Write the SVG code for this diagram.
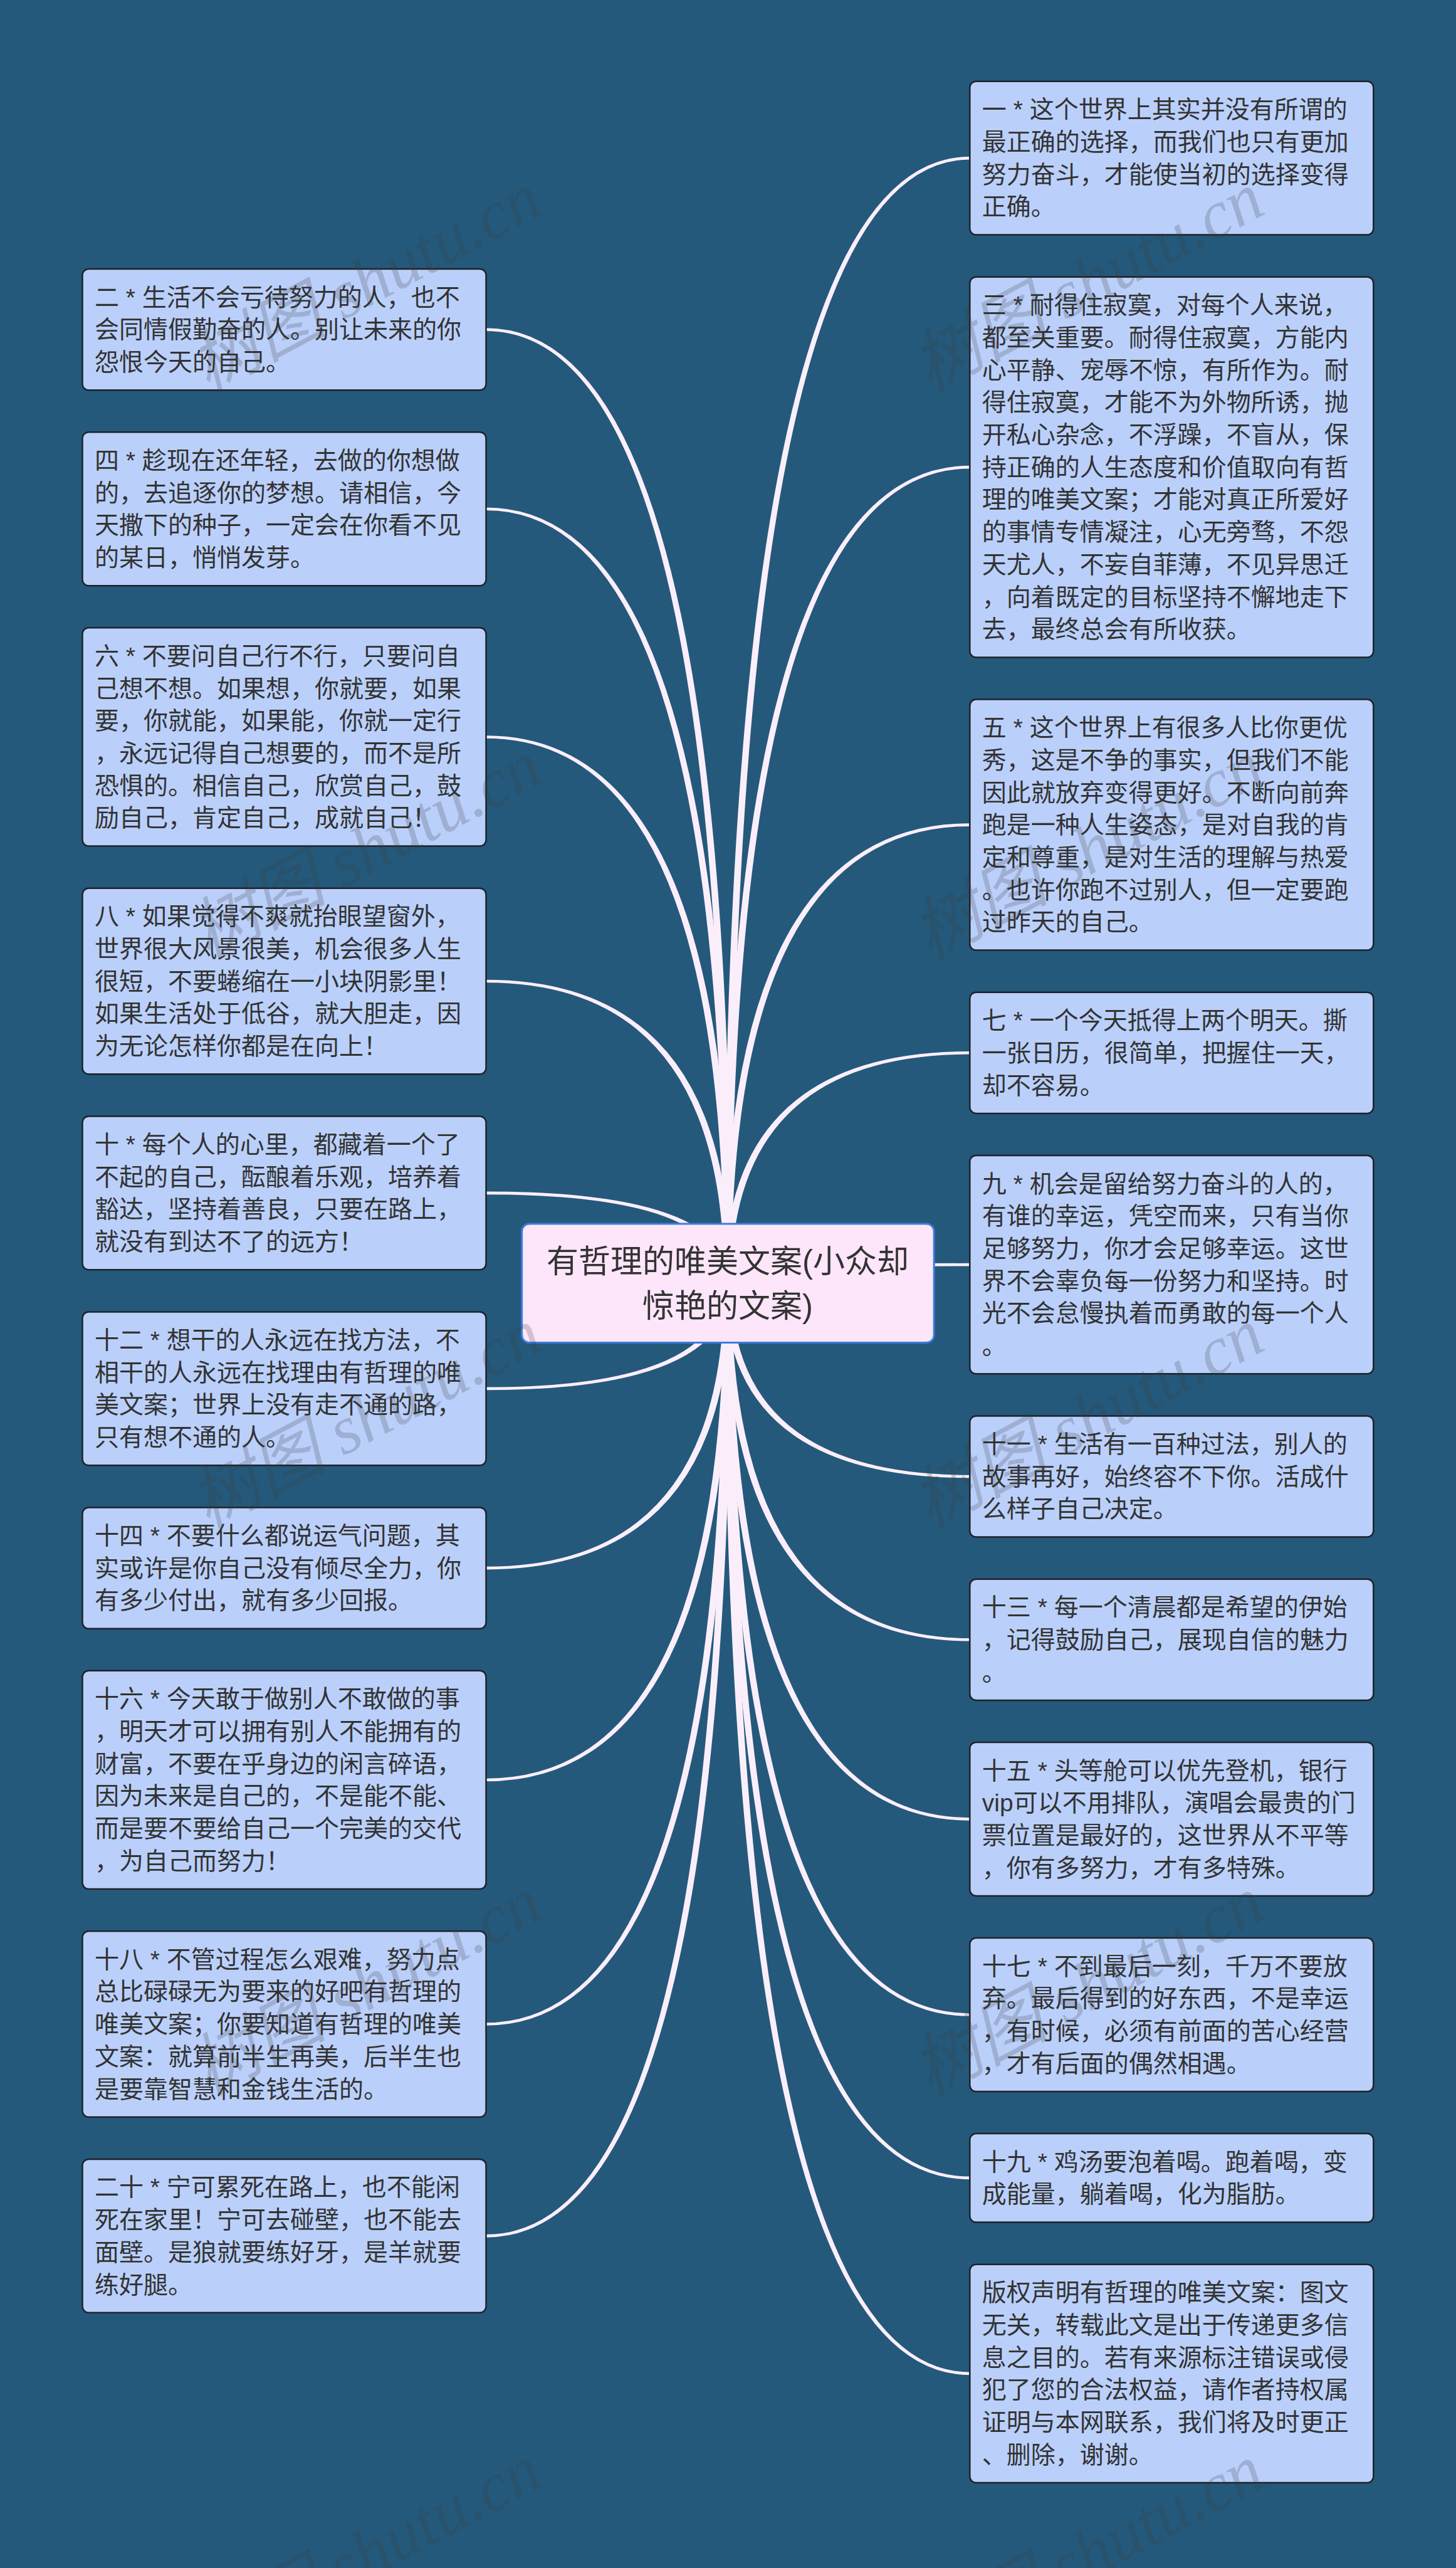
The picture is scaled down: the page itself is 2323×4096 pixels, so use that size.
<svg xmlns="http://www.w3.org/2000/svg" width="2323" height="4096" viewBox="0 0 2323 4096">
<defs>
<style>
.nb{fill:#bad0fb;stroke:#1e2328;stroke-width:2.5}
.cb{fill:#fde6fa;stroke:#3b7ddd;stroke-width:3}
.t{font-family:"Liberation Sans","Noto Sans CJK SC",sans-serif;font-size:39px;fill:#333333}
.ct{font-family:"Liberation Sans","Noto Sans CJK SC",sans-serif;font-size:51px;fill:#333333;text-anchor:middle}
.c{fill:#fbeefb}
.wm{font-family:"Liberation Serif","Noto Sans CJK SC",serif;font-style:italic;font-size:109px;fill:#3a3a3a;fill-opacity:0.22}
</style>
</defs>
<rect x="0" y="0" width="2323" height="4096" fill="#24597b"/>
<g id="connectors">
<path class="c" d="M1166.5,2046.2 Q1166.5,523.3 775.5,523.3 L775.5,527.9 Q1155.5,527.9 1155.5,2046.2Z"/>
<path class="c" d="M1166.5,2046.2 Q1166.5,809.45 775.5,809.45 L775.5,814.05 Q1155.5,814.05 1155.5,2046.2Z"/>
<path class="c" d="M1166.5,2046.2 Q1166.5,1173.15 775.5,1173.15 L775.5,1177.75 Q1155.5,1177.75 1155.5,2046.2Z"/>
<path class="c" d="M1166.5,2046.2 Q1166.5,1562.7 775.5,1562.7 L775.5,1567.3 Q1155.5,1567.3 1155.5,2046.2Z"/>
<path class="c" d="M1166.5,2046.2 Q1166.5,1900.55 775.5,1900.55 L775.5,1905.15 Q1155.5,1905.15 1155.5,2046.2Z"/>
<path class="c" d="M1166.5,2046.2 Q1166.5,2217.15 775.5,2217.15 L775.5,2212.55 Q1155.5,2212.55 1155.5,2046.2Z"/>
<path class="c" d="M1166.5,2046.2 Q1166.5,2503.4 775.5,2503.4 L775.5,2498.8 Q1155.5,2498.8 1155.5,2046.2Z"/>
<path class="c" d="M1166.5,2046.2 Q1166.5,2841.25 775.5,2841.25 L775.5,2836.65 Q1155.5,2836.65 1155.5,2046.2Z"/>
<path class="c" d="M1166.5,2046.2 Q1166.5,3230.8 775.5,3230.8 L775.5,3226.2 Q1155.5,3226.2 1155.5,2046.2Z"/>
<path class="c" d="M1166.5,2046.2 Q1166.5,3568.65 775.5,3568.65 L775.5,3564.05 Q1155.5,3564.05 1155.5,2046.2Z"/>
<path class="c" d="M1155.5,2046.2 Q1155.5,249.85 1547.3,249.85 L1547.3,254.45 Q1166.5,254.45 1166.5,2046.2Z"/>
<path class="c" d="M1155.5,2046.2 Q1155.5,742.8 1547.3,742.8 L1547.3,747.4 Q1166.5,747.4 1166.5,2046.2Z"/>
<path class="c" d="M1155.5,2046.2 Q1155.5,1313.3 1547.3,1313.3 L1547.3,1317.9 Q1166.5,1317.9 1166.5,2046.2Z"/>
<path class="c" d="M1155.5,2046.2 Q1155.5,1677.0 1547.3,1677.0 L1547.3,1681.6 Q1166.5,1681.6 1166.5,2046.2Z"/>
<path class="c" d="M1155.5,2046.2 Q1155.5,2014.85 1547.3,2014.85 L1547.3,2019.45 Q1166.5,2019.45 1166.5,2046.2Z"/>
<path class="c" d="M1155.5,2046.2 Q1155.5,2357.3 1547.3,2357.3 L1547.3,2352.7 Q1166.5,2352.7 1166.5,2046.2Z"/>
<path class="c" d="M1155.5,2046.2 Q1155.5,2617.6 1547.3,2617.6 L1547.3,2613.0 Q1166.5,2613.0 1166.5,2046.2Z"/>
<path class="c" d="M1155.5,2046.2 Q1155.5,2903.75 1547.3,2903.75 L1547.3,2899.15 Q1166.5,2899.15 1166.5,2046.2Z"/>
<path class="c" d="M1155.5,2046.2 Q1155.5,3215.85 1547.3,3215.85 L1547.3,3211.25 Q1166.5,3211.25 1166.5,2046.2Z"/>
<path class="c" d="M1155.5,2046.2 Q1155.5,3476.15 1547.3,3476.15 L1547.3,3471.55 Q1166.5,3471.55 1166.5,2046.2Z"/>
<path class="c" d="M1155.5,2046.2 Q1155.5,3788.15 1547.3,3788.15 L1547.3,3783.55 Q1166.5,3783.55 1166.5,2046.2Z"/>
</g>
<g id="root">
<rect class="cb" x="832.6" y="1951.9" width="657.6" height="189.6" rx="12"/>
<text class="ct" x="1161" y="2029.9">有哲理的唯美文案(小众却</text>
<text class="ct" x="1161" y="2100.6">惊艳的文案)</text>
</g>
<g id="n2">
<rect class="nb" x="131.5" y="429.0" width="644" height="193.2" rx="10"/>
<text class="t" x="151" y="487.5"><tspan x="151">二 * 生活不会亏待努力的人，也不</tspan><tspan x="151" dy="51.7">会同情假勤奋的人。别让未来的你</tspan><tspan x="151" dy="51.7">怨恨今天的自己。</tspan></text>
</g>
<g id="n4">
<rect class="nb" x="131.5" y="689.3" width="644" height="244.9" rx="10"/>
<text class="t" x="151" y="747.8"><tspan x="151">四 * 趁现在还年轻，去做的你想做</tspan><tspan x="151" dy="51.7">的，去追逐你的梦想。请相信，今</tspan><tspan x="151" dy="51.7">天撒下的种子，一定会在你看不见</tspan><tspan x="151" dy="51.7">的某日，悄悄发芽。</tspan></text>
</g>
<g id="n6">
<rect class="nb" x="131.5" y="1001.3" width="644" height="348.3" rx="10"/>
<text class="t" x="151" y="1059.8"><tspan x="151">六 * 不要问自己行不行，只要问自</tspan><tspan x="151" dy="51.7">己想不想。如果想，你就要，如果</tspan><tspan x="151" dy="51.7">要，你就能，如果能，你就一定行</tspan><tspan x="151" dy="51.7">，永远记得自己想要的，而不是所</tspan><tspan x="151" dy="51.7">恐惧的。相信自己，欣赏自己，鼓</tspan><tspan x="151" dy="51.7">励自己，肯定自己，成就自己！</tspan></text>
</g>
<g id="n8">
<rect class="nb" x="131.5" y="1416.7" width="644" height="296.6" rx="10"/>
<text class="t" x="151" y="1475.2"><tspan x="151">八 * 如果觉得不爽就抬眼望窗外，</tspan><tspan x="151" dy="51.7">世界很大风景很美，机会很多人生</tspan><tspan x="151" dy="51.7">很短，不要蜷缩在一小块阴影里！</tspan><tspan x="151" dy="51.7">如果生活处于低谷，就大胆走，因</tspan><tspan x="151" dy="51.7">为无论怎样你都是在向上！</tspan></text>
</g>
<g id="n10">
<rect class="nb" x="131.5" y="1780.4" width="644" height="244.9" rx="10"/>
<text class="t" x="151" y="1838.9"><tspan x="151">十 * 每个人的心里，都藏着一个了</tspan><tspan x="151" dy="51.7">不起的自己，酝酿着乐观，培养着</tspan><tspan x="151" dy="51.7">豁达，坚持着善良，只要在路上，</tspan><tspan x="151" dy="51.7">就没有到达不了的远方！</tspan></text>
</g>
<g id="n12">
<rect class="nb" x="131.5" y="2092.4" width="644" height="244.9" rx="10"/>
<text class="t" x="151" y="2150.9"><tspan x="151">十二 * 想干的人永远在找方法，不</tspan><tspan x="151" dy="51.7">相干的人永远在找理由有哲理的唯</tspan><tspan x="151" dy="51.7">美文案；世界上没有走不通的路，</tspan><tspan x="151" dy="51.7">只有想不通的人。</tspan></text>
</g>
<g id="n14">
<rect class="nb" x="131.5" y="2404.5" width="644" height="193.2" rx="10"/>
<text class="t" x="151" y="2463.0"><tspan x="151">十四 * 不要什么都说运气问题，其</tspan><tspan x="151" dy="51.7">实或许是你自己没有倾尽全力，你</tspan><tspan x="151" dy="51.7">有多少付出，就有多少回报。</tspan></text>
</g>
<g id="n16">
<rect class="nb" x="131.5" y="2664.8" width="644" height="348.3" rx="10"/>
<text class="t" x="151" y="2723.3"><tspan x="151">十六 * 今天敢于做别人不敢做的事</tspan><tspan x="151" dy="51.7">，明天才可以拥有别人不能拥有的</tspan><tspan x="151" dy="51.7">财富，不要在乎身边的闲言碎语，</tspan><tspan x="151" dy="51.7">因为未来是自己的，不是能不能、</tspan><tspan x="151" dy="51.7">而是要不要给自己一个完美的交代</tspan><tspan x="151" dy="51.7">，为自己而努力！</tspan></text>
</g>
<g id="n18">
<rect class="nb" x="131.5" y="3080.2" width="644" height="296.6" rx="10"/>
<text class="t" x="151" y="3138.7"><tspan x="151">十八 * 不管过程怎么艰难，努力点</tspan><tspan x="151" dy="51.7">总比碌碌无为要来的好吧有哲理的</tspan><tspan x="151" dy="51.7">唯美文案；你要知道有哲理的唯美</tspan><tspan x="151" dy="51.7">文案：就算前半生再美，后半生也</tspan><tspan x="151" dy="51.7">是要靠智慧和金钱生活的。</tspan></text>
</g>
<g id="n20">
<rect class="nb" x="131.5" y="3443.9" width="644" height="244.9" rx="10"/>
<text class="t" x="151" y="3502.4"><tspan x="151">二十 * 宁可累死在路上，也不能闲</tspan><tspan x="151" dy="51.7">死在家里！宁可去碰壁，也不能去</tspan><tspan x="151" dy="51.7">面壁。是狼就要练好牙，是羊就要</tspan><tspan x="151" dy="51.7">练好腿。</tspan></text>
</g>
<g id="n1">
<rect class="nb" x="1547.3" y="129.7" width="644" height="244.9" rx="10"/>
<text class="t" x="1566.8" y="188.2"><tspan x="1566.8">一 * 这个世界上其实并没有所谓的</tspan><tspan x="1566.8" dy="51.7">最正确的选择，而我们也只有更加</tspan><tspan x="1566.8" dy="51.7">努力奋斗，才能使当初的选择变得</tspan><tspan x="1566.8" dy="51.7">正确。</tspan></text>
</g>
<g id="n3">
<rect class="nb" x="1547.3" y="441.7" width="644" height="606.8" rx="10"/>
<text class="t" x="1566.8" y="500.2"><tspan x="1566.8">三 * 耐得住寂寞，对每个人来说，</tspan><tspan x="1566.8" dy="51.7">都至关重要。耐得住寂寞，方能内</tspan><tspan x="1566.8" dy="51.7">心平静、宠辱不惊，有所作为。耐</tspan><tspan x="1566.8" dy="51.7">得住寂寞，才能不为外物所诱，抛</tspan><tspan x="1566.8" dy="51.7">开私心杂念，不浮躁，不盲从，保</tspan><tspan x="1566.8" dy="51.7">持正确的人生态度和价值取向有哲</tspan><tspan x="1566.8" dy="51.7">理的唯美文案；才能对真正所爱好</tspan><tspan x="1566.8" dy="51.7">的事情专情凝注，心无旁骛，不怨</tspan><tspan x="1566.8" dy="51.7">天尤人，不妄自菲薄，不见异思迁</tspan><tspan x="1566.8" dy="51.7">，向着既定的目标坚持不懈地走下</tspan><tspan x="1566.8" dy="51.7">去，最终总会有所收获。</tspan></text>
</g>
<g id="n5">
<rect class="nb" x="1547.3" y="1115.6" width="644" height="400.0" rx="10"/>
<text class="t" x="1566.8" y="1174.1"><tspan x="1566.8">五 * 这个世界上有很多人比你更优</tspan><tspan x="1566.8" dy="51.7">秀，这是不争的事实，但我们不能</tspan><tspan x="1566.8" dy="51.7">因此就放弃变得更好。不断向前奔</tspan><tspan x="1566.8" dy="51.7">跑是一种人生姿态，是对自我的肯</tspan><tspan x="1566.8" dy="51.7">定和尊重，是对生活的理解与热爱</tspan><tspan x="1566.8" dy="51.7">。也许你跑不过别人，但一定要跑</tspan><tspan x="1566.8" dy="51.7">过昨天的自己。</tspan></text>
</g>
<g id="n7">
<rect class="nb" x="1547.3" y="1582.7" width="644" height="193.2" rx="10"/>
<text class="t" x="1566.8" y="1641.2"><tspan x="1566.8">七 * 一个今天抵得上两个明天。撕</tspan><tspan x="1566.8" dy="51.7">一张日历，很简单，把握住一天，</tspan><tspan x="1566.8" dy="51.7">却不容易。</tspan></text>
</g>
<g id="n9">
<rect class="nb" x="1547.3" y="1843.0" width="644" height="348.3" rx="10"/>
<text class="t" x="1566.8" y="1901.5"><tspan x="1566.8">九 * 机会是留给努力奋斗的人的，</tspan><tspan x="1566.8" dy="51.7">有谁的幸运，凭空而来，只有当你</tspan><tspan x="1566.8" dy="51.7">足够努力，你才会足够幸运。这世</tspan><tspan x="1566.8" dy="51.7">界不会辜负每一份努力和坚持。时</tspan><tspan x="1566.8" dy="51.7">光不会怠慢执着而勇敢的每一个人</tspan><tspan x="1566.8" dy="51.7">。</tspan></text>
</g>
<g id="n11">
<rect class="nb" x="1547.3" y="2258.4" width="644" height="193.2" rx="10"/>
<text class="t" x="1566.8" y="2316.9"><tspan x="1566.8">十一 * 生活有一百种过法，别人的</tspan><tspan x="1566.8" dy="51.7">故事再好，始终容不下你。活成什</tspan><tspan x="1566.8" dy="51.7">么样子自己决定。</tspan></text>
</g>
<g id="n13">
<rect class="nb" x="1547.3" y="2518.7" width="644" height="193.2" rx="10"/>
<text class="t" x="1566.8" y="2577.2"><tspan x="1566.8">十三 * 每一个清晨都是希望的伊始</tspan><tspan x="1566.8" dy="51.7">，记得鼓励自己，展现自信的魅力</tspan><tspan x="1566.8" dy="51.7">。</tspan></text>
</g>
<g id="n15">
<rect class="nb" x="1547.3" y="2779.0" width="644" height="244.9" rx="10"/>
<text class="t" x="1566.8" y="2837.5"><tspan x="1566.8">十五 * 头等舱可以优先登机，银行</tspan><tspan x="1566.8" dy="51.7">vip可以不用排队，演唱会最贵的门</tspan><tspan x="1566.8" dy="51.7">票位置是最好的，这世界从不平等</tspan><tspan x="1566.8" dy="51.7">，你有多努力，才有多特殊。</tspan></text>
</g>
<g id="n17">
<rect class="nb" x="1547.3" y="3091.1" width="644" height="244.9" rx="10"/>
<text class="t" x="1566.8" y="3149.6"><tspan x="1566.8">十七 * 不到最后一刻，千万不要放</tspan><tspan x="1566.8" dy="51.7">弃。最后得到的好东西，不是幸运</tspan><tspan x="1566.8" dy="51.7">，有时候，必须有前面的苦心经营</tspan><tspan x="1566.8" dy="51.7">，才有后面的偶然相遇。</tspan></text>
</g>
<g id="n19">
<rect class="nb" x="1547.3" y="3403.1" width="644" height="141.5" rx="10"/>
<text class="t" x="1566.8" y="3461.6"><tspan x="1566.8">十九 * 鸡汤要泡着喝。跑着喝，变</tspan><tspan x="1566.8" dy="51.7">成能量，躺着喝，化为脂肪。</tspan></text>
</g>
<g id="copyright">
<rect class="nb" x="1547.3" y="3611.7" width="644" height="348.3" rx="10"/>
<text class="t" x="1566.8" y="3670.2"><tspan x="1566.8">版权声明有哲理的唯美文案：图文</tspan><tspan x="1566.8" dy="51.7">无关，转载此文是出于传递更多信</tspan><tspan x="1566.8" dy="51.7">息之目的。若有来源标注错误或侵</tspan><tspan x="1566.8" dy="51.7">犯了您的合法权益，请作者持权属</tspan><tspan x="1566.8" dy="51.7">证明与本网联系，我们将及时更正</tspan><tspan x="1566.8" dy="51.7">、删除，谢谢。</tspan></text>
</g>
<g id="watermark">
<text class="wm" x="331" y="626" transform="rotate(-28 331 626)">树图 shutu.cn</text>
<text class="wm" x="331" y="1532" transform="rotate(-28 331 1532)">树图 shutu.cn</text>
<text class="wm" x="331" y="2438" transform="rotate(-28 331 2438)">树图 shutu.cn</text>
<text class="wm" x="331" y="3344" transform="rotate(-28 331 3344)">树图 shutu.cn</text>
<text class="wm" x="331" y="4250" transform="rotate(-28 331 4250)">树图 shutu.cn</text>
<text class="wm" x="1483" y="626" transform="rotate(-28 1483 626)">树图 shutu.cn</text>
<text class="wm" x="1483" y="1532" transform="rotate(-28 1483 1532)">树图 shutu.cn</text>
<text class="wm" x="1483" y="2438" transform="rotate(-28 1483 2438)">树图 shutu.cn</text>
<text class="wm" x="1483" y="3344" transform="rotate(-28 1483 3344)">树图 shutu.cn</text>
<text class="wm" x="1483" y="4250" transform="rotate(-28 1483 4250)">树图 shutu.cn</text>
</g>
</svg>
